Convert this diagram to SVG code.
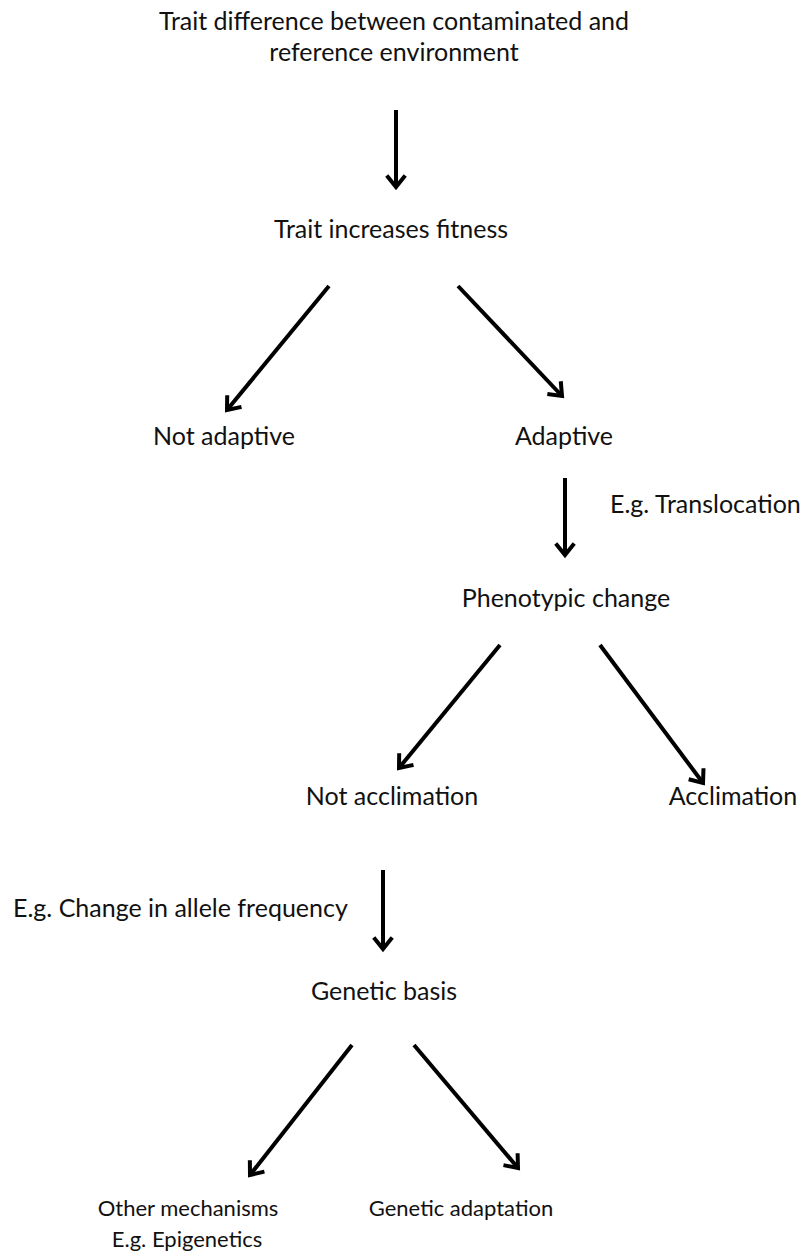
<svg xmlns="http://www.w3.org/2000/svg" width="802" height="1257" viewBox="0 0 802 1257">
<defs>
<style>
text{font-family:"Lato","Open Sans","Liberation Sans",sans-serif;font-size:25px;fill:#111;}
.s{font-size:22px;}
.c{text-anchor:middle;}
.e{stroke:#000;stroke-width:4;fill:none;}
</style>
<marker id="ah" viewBox="-12 -9 14 18" refX="0" refY="0" markerWidth="14" markerHeight="18" markerUnits="userSpaceOnUse" orient="auto" overflow="visible">
<path d="M-10,-8 L0,0 L-10,8" fill="none" stroke="#000" stroke-width="4" stroke-linecap="square" stroke-linejoin="miter"/>
</marker>
</defs>
<rect width="802" height="1257" fill="#fff"/>
<g id="n1"><text class="c" x="394" y="30">Trait difference between contaminated and</text><text class="c" x="394" y="61">reference environment</text></g>
<g id="n2"><text class="c" x="391" y="238">Trait increases fitness</text></g>
<g id="n3"><text class="c" x="224" y="445">Not adaptive</text></g>
<g id="n4"><text class="c" x="564" y="445">Adaptive</text></g>
<g id="n5"><text class="c" x="566" y="607">Phenotypic change</text></g>
<g id="n6"><text class="c" x="392" y="805">Not acclimation</text></g>
<g id="n7"><text class="c" x="733" y="805">Acclimation</text></g>
<g id="n8"><text class="c" x="384" y="1000">Genetic basis</text></g>
<g id="n9"><text class="c s" x="188" y="1216">Other mechanisms</text><text class="c s" x="187" y="1247">E.g. Epigenetics</text></g>
<g id="n10"><text class="c s" x="461" y="1216">Genetic adaptation</text></g>
<g id="labels"><text x="610" y="513">E.g. Translocation</text><text x="13" y="917">E.g. Change in allele frequency</text></g>
<g id="connectors">
<line class="e" x1="396" y1="110" x2="396" y2="187" marker-end="url(#ah)"/>
<line class="e" x1="329" y1="286" x2="227" y2="410" marker-end="url(#ah)"/>
<line class="e" x1="458" y1="286" x2="562" y2="396" marker-end="url(#ah)"/>
<line class="e" x1="565" y1="478" x2="565" y2="555" marker-end="url(#ah)"/>
<line class="e" x1="500" y1="645" x2="399" y2="768" marker-end="url(#ah)"/>
<line class="e" x1="600" y1="645" x2="703" y2="783" marker-end="url(#ah)"/>
<line class="e" x1="383" y1="870" x2="383" y2="949" marker-end="url(#ah)"/>
<line class="e" x1="352" y1="1045" x2="250" y2="1175" marker-end="url(#ah)"/>
<line class="e" x1="414" y1="1045" x2="518" y2="1168" marker-end="url(#ah)"/>
</g>
</svg>
